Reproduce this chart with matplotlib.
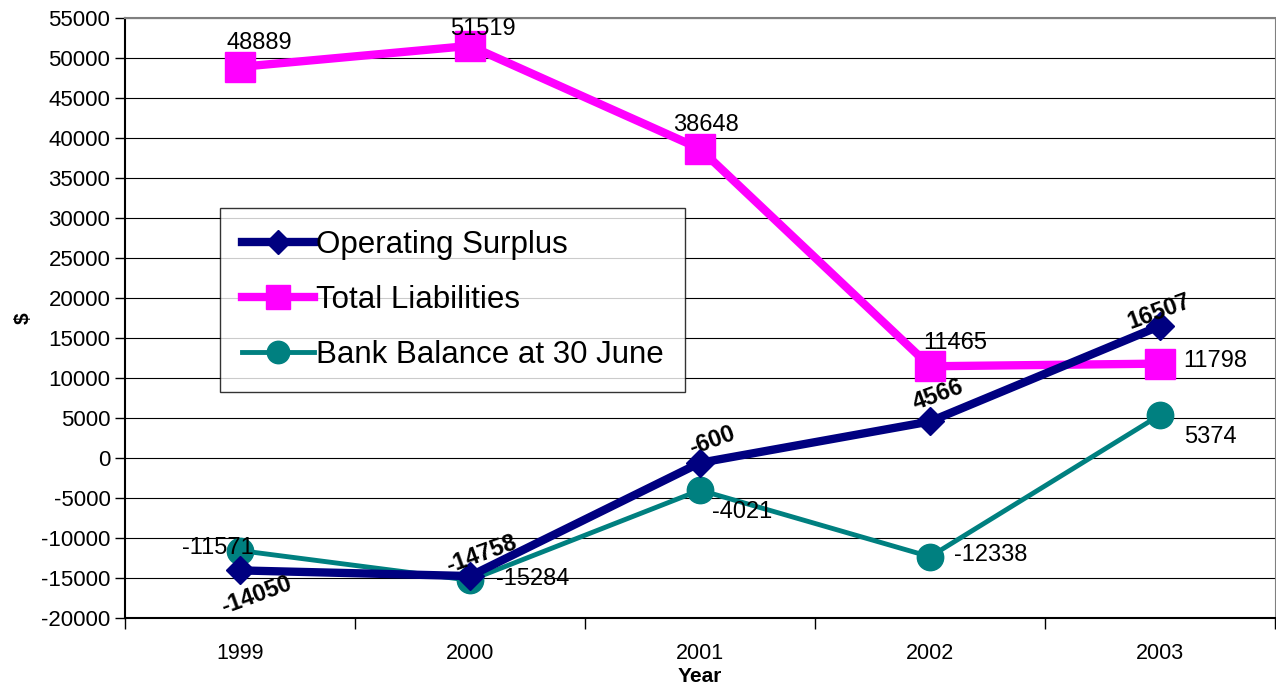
import matplotlib.pyplot as plt
import numpy as np

plt.rcParams['font.family'] = ['Liberation Sans', 'DejaVu Sans']
plt.rcParams['axes.unicode_minus'] = False

# data
years = ['1999', '2000', '2001', '2002', '2003']
operating_surplus = [-14050, -14758, -600, 4566, 16507]
total_liabilities = [48889, 51519, 38648, 11465, 11798]
bank_balance = [-11571, -15284, -4021, -12338, 5374]

# label offsets in points (layout only)
os_offsets = [(12, -18), (8, 16), (9, 16), (6, 19), (-1, 10)]
tl_offsets = [(14, 17), (9, 12), (4, 17), (18, 17), (40, 2)]
bb_offsets = [(-16, 2), (45, 1), (30, -16), (44, 1), (36, -16)]

x = np.arange(len(years))

fig = plt.figure(figsize=(12.76, 6.85), dpi=100)
ax = fig.add_axes([125/1276, 67/685, 1150/1276, 600/685])

ax.plot(x, operating_surplus, color='#000080', lw=6, marker='D', ms=14,
        label='Operating Surplus', zorder=4)
ax.plot(x, total_liabilities, color='#FF00FF', lw=6, marker='s', ms=21,
        label='Total Liabilities', zorder=3)
ax.plot(x, bank_balance, color='#008080', lw=3.5, marker='o', ms=19,
        label='Bank Balance at 30 June', zorder=3)

for i in range(len(x)):
    ax.annotate(str(operating_surplus[i]), (x[i], operating_surplus[i]),
                xytext=os_offsets[i], textcoords='offset points',
                ha='center', va='center', fontsize=17, fontweight='bold',
                rotation=20, zorder=6)
    ax.annotate(str(total_liabilities[i]), (x[i], total_liabilities[i]),
                xytext=tl_offsets[i], textcoords='offset points',
                ha='center', va='center', fontsize=17, zorder=6)
    ax.annotate(str(bank_balance[i]), (x[i], bank_balance[i]),
                xytext=bb_offsets[i], textcoords='offset points',
                ha='center', va='center', fontsize=17, zorder=6)

ax.set_xlim(-0.5, 4.5)
ax.set_ylim(-20000, 55000)
ax.set_yticks(np.arange(-20000, 55001, 5000))
ax.tick_params(axis='y', labelsize=16, direction='out', length=7, width=1)
ax.yaxis.grid(True, color='black', lw=0.8)
ax.set_axisbelow(True)

# category labels centred, ticks between categories
ax.set_xticks(x)
ax.set_xticklabels(years, fontsize=15.5)
ax.tick_params(axis='x', which='major', length=0, pad=18)
ax.set_xticks(np.arange(-0.5, 4.6, 1), minor=True)
ax.tick_params(axis='x', which='minor', direction='out', length=8, width=1)

ax.spines['left'].set_linewidth(1.5)
ax.spines['bottom'].set_linewidth(1.5)
ax.spines['top'].set_color('#808080')
ax.spines['right'].set_color('#808080')
ax.spines['top'].set_linewidth(1.5)

ax.set_xlabel('Year', fontsize=15, fontweight='bold', labelpad=2)
ax.set_ylabel('$', fontsize=15, fontweight='bold', labelpad=6)

leg = ax.legend(loc='upper left', bbox_to_anchor=(0.083, 0.683), fontsize=22.5,
                frameon=True, fancybox=False, edgecolor='black',
                handlelength=2.3, handletextpad=0.05, borderpad=0.7,
                labelspacing=0.8, markerscale=0.85, borderaxespad=0)
leg.get_frame().set_linewidth(1)
# nudge handles inward a little, like the original box
leg._legend_box.sep = 0

fig.savefig('out.png', dpi=100)
